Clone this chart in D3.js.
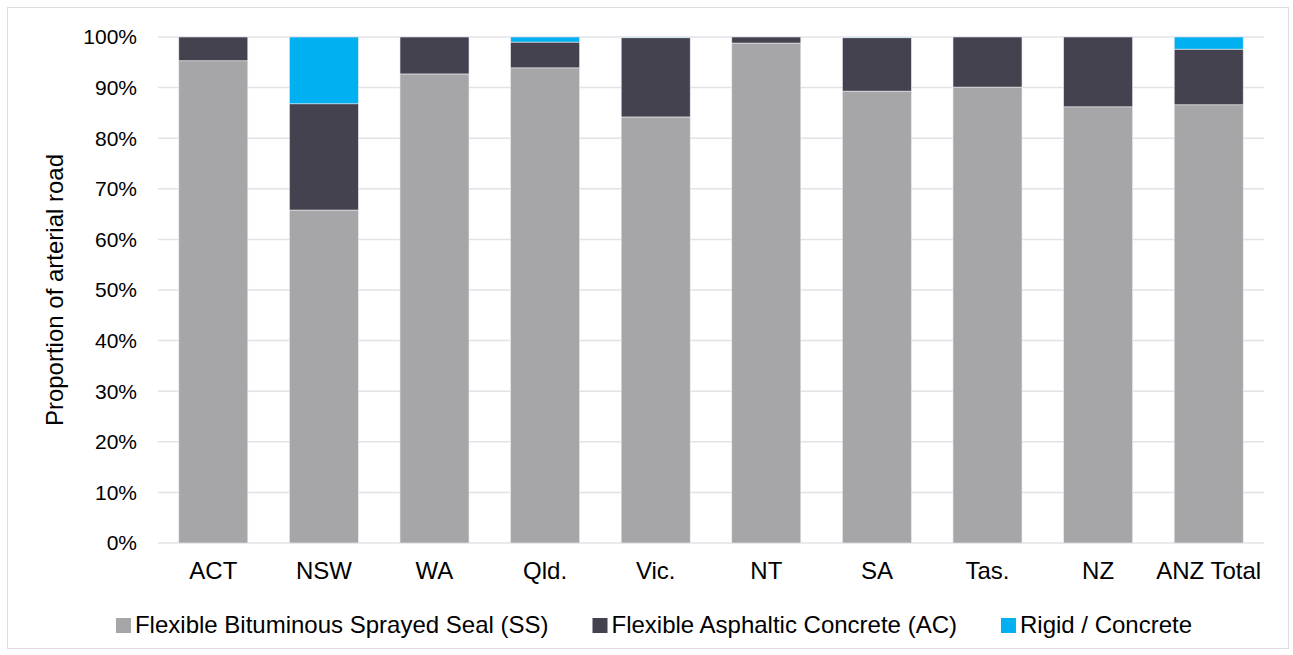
<!DOCTYPE html>
<html>
<head>
<meta charset="utf-8">
<script src="https://cdn.jsdelivr.net/npm/d3@7"></script>
<style>
  html, body { margin: 0; padding: 0; background: #fff; }
  svg { display: block; font-family: "Liberation Sans", Arial, sans-serif; }
</style>
</head>
<body>
<svg id="chart" width="1293" height="655"></svg>
<script>
const regions = ["ACT", "NSW", "WA", "Qld.", "Vic.", "NT", "SA", "Tas.", "NZ", "ANZ Total"];
const sprayedSeal = [95.3, 65.8, 92.7, 93.9, 84.2, 98.8, 89.3, 90.1, 86.2, 86.6];
const asphaltic = [4.7, 21.0, 7.3, 5.1, 15.65, 1.2, 10.55, 9.9, 13.8, 11.0];
const rigid = [0, 13.2, 0, 1.0, 0.15, 0, 0.15, 0, 0, 2.4];
const seriesNames = [
  "Flexible Bituminous Sprayed Seal (SS)",
  "Flexible Asphaltic Concrete (AC)",
  "Rigid / Concrete"
];
const colors = ["#a6a6a8", "#44424f", "#00b0f0"];
const yTicks = [0, 10, 20, 30, 40, 50, 60, 70, 80, 90, 100];

const svg = d3.select("#chart");
const margin = { left: 158, right: 1264, top: 37, bottom: 543 };

// chart frame
svg.append("rect")
  .attr("x", 7.5).attr("y", 7.5)
  .attr("width", 1281).attr("height", 641)
  .attr("fill", "#fff")
  .attr("stroke", "#dcdce2")
  .attr("stroke-width", 1);

const x = d3.scaleBand()
  .domain(regions)
  .range([margin.left, margin.right])
  .paddingInner(0.376)
  .paddingOuter(0.188);

const y = d3.scaleLinear()
  .domain([0, 100])
  .range([margin.bottom, margin.top]);

// gridlines
svg.append("g")
  .selectAll("line")
  .data(yTicks)
  .join("line")
  .attr("x1", margin.left)
  .attr("x2", margin.right)
  .attr("y1", d => y(d))
  .attr("y2", d => y(d))
  .attr("stroke", "#e2e2e8")
  .attr("stroke-width", 1.5);

// y tick labels
svg.append("g")
  .selectAll("text")
  .data(yTicks)
  .join("text")
  .attr("x", 137)
  .attr("y", d => y(d))
  .attr("dy", "0.35em")
  .attr("text-anchor", "end")
  .attr("font-size", 21)
  .attr("fill", "#000")
  .text(d => d + "%");

// stacked bars
const rows = regions.map((r, i) => ({
  region: r,
  ss: sprayedSeal[i],
  ac: asphaltic[i],
  rc: rigid[i]
}));
const stack = d3.stack().keys(["ss", "ac", "rc"]);
const layers = stack(rows);

svg.append("g")
  .selectAll("g")
  .data(layers)
  .join("g")
  .attr("fill", (d, i) => colors[i])
  .selectAll("rect")
  .data(d => d)
  .join("rect")
  .attr("x", d => x(d.data.region))
  .attr("width", x.bandwidth())
  .attr("y", d => y(Math.min(d[1], 100)))
  .attr("height", d => Math.max(0, y(d[0]) - y(Math.min(d[1], 100))))
  .attr("stroke", "#ececf0")
  .attr("stroke-width", 0.6);

// x labels
svg.append("g")
  .selectAll("text")
  .data(regions)
  .join("text")
  .attr("x", d => x(d) + x.bandwidth() / 2)
  .attr("y", 579)
  .attr("text-anchor", "middle")
  .attr("font-size", 24)
  .attr("fill", "#000")
  .text(d => d);

// y axis title
svg.append("text")
  .attr("transform", "translate(63,290) rotate(-90)")
  .attr("text-anchor", "middle")
  .attr("font-size", 24)
  .attr("fill", "#000")
  .text("Proportion of arterial road");

// legend
const legend = svg.append("g");
const items = legend.selectAll("g")
  .data(seriesNames)
  .join("g");
items.append("rect")
  .attr("width", 15).attr("height", 15)
  .attr("y", -15)
  .attr("fill", (d, i) => colors[i]);
const labels = items.append("text")
  .attr("x", 19)
  .attr("font-size", 24)
  .attr("fill", "#000")
  .text(d => d);

const gap = 44;
const widths = labels.nodes().map(n => 19 + n.getComputedTextLength());
const total = d3.sum(widths) + gap * (widths.length - 1);
let cx = 654 - total / 2;
items.each(function (d, i) {
  d3.select(this).attr("transform", `translate(${cx},633)`);
  cx += widths[i] + gap;
});
</script>
</body>
</html>
